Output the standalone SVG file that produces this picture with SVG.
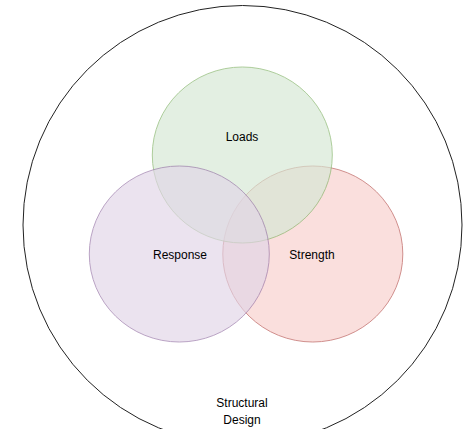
<svg xmlns="http://www.w3.org/2000/svg" width="464" height="429" viewBox="0 0 464 429">
<style>
text{font-family:"Comic Sans MS","Liberation Sans",sans-serif;font-size:12px;fill:#000;text-anchor:middle}
.c{opacity:0.65}
</style>
<rect width="464" height="429" fill="#fff"/>
<g id="structural-design">
<circle cx="242.5" cy="225" r="219.5" fill="#fff" stroke="#222" stroke-width="1"/>
<text x="242" y="407">Structural</text>
<text x="242" y="424">Design</text>
</g>
<g id="strength">
<ellipse class="c" cx="312.8" cy="254" rx="90" ry="88" fill="#f8cecc" stroke="#b85450"/>
</g>
<g id="loads">
<ellipse class="c" cx="242.3" cy="155" rx="90" ry="88" fill="#d5e8d4" stroke="#82b366"/>
</g>
<g id="response">
<ellipse class="c" cx="179.3" cy="254" rx="90" ry="88" fill="#e1d5e7" stroke="#9673a6"/>
</g>
<g id="labels">
<text x="242" y="141">Loads</text>
<text x="312" y="259">Strength</text>
<text x="180" y="259">Response</text>
</g>
<g id="connectors"></g>
</svg>
